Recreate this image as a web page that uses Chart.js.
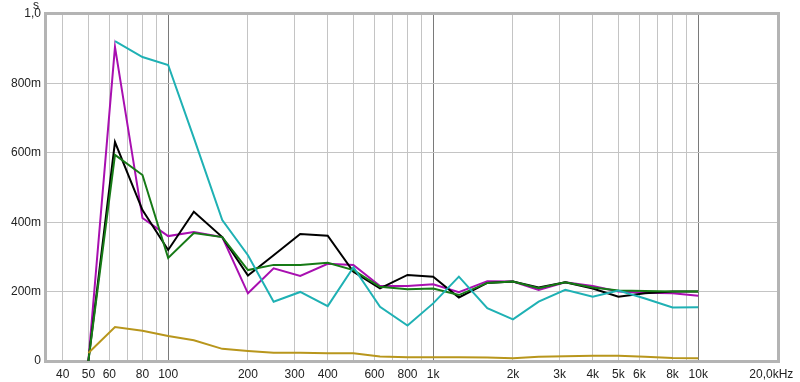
<!DOCTYPE html>
<html>
<head>
<meta charset="utf-8">
<script src="https://cdn.jsdelivr.net/npm/chart.js@4/dist/chart.umd.min.js"></script>
<style>
  html, body { margin: 0; padding: 0; background: #ffffff; }
  #wrap { width: 800px; height: 382px; }
</style>
</head>
<body>
<div id="wrap"><canvas id="c" width="800" height="382"></canvas></div>
<script>
// Frequencies (Hz), 1/3-octave bands
const freqs = [50, 63, 80, 100, 125, 160, 200, 250, 315, 400, 500, 630, 800, 1000, 1250, 1600, 2000, 2500, 3150, 4000, 5000, 6300, 8000, 10000];

// Series values (seconds); null = no value in that band
const tealVals   = [null, 0.922, 0.876, 0.853, 0.643, 0.406, 0.305, 0.171, 0.199, 0.158, 0.270, 0.156, 0.102, 0.166, 0.243, 0.152, 0.120, 0.171, 0.205, 0.185, 0.203, 0.180, 0.154, 0.155];
const purpleVals = [0.0, 0.905, 0.412, 0.360, 0.372, 0.357, 0.195, 0.267, 0.245, 0.280, 0.277, 0.216, 0.216, 0.221, 0.198, 0.230, 0.229, 0.205, 0.227, 0.216, 0.200, 0.197, 0.195, 0.188];
const blackVals  = [0.0, 0.631, 0.435, 0.320, 0.430, 0.357, 0.246, 0.305, 0.366, 0.361, 0.257, 0.209, 0.248, 0.243, 0.183, 0.225, 0.229, 0.212, 0.227, 0.209, 0.185, 0.195, 0.200, 0.200];
const greenVals  = [0.0, 0.594, 0.536, 0.297, 0.369, 0.357, 0.262, 0.277, 0.277, 0.283, 0.262, 0.214, 0.207, 0.209, 0.190, 0.225, 0.229, 0.210, 0.227, 0.212, 0.203, 0.202, 0.200, 0.200];
const goldVals   = [0.023, 0.098, 0.087, 0.072, 0.060, 0.035, 0.029, 0.024, 0.024, 0.022, 0.022, 0.013, 0.011, 0.011, 0.011, 0.010, 0.008, 0.012, 0.014, 0.015, 0.015, 0.012, 0.009, 0.008];

// Tick values / labels
const xGridValues = [40, 50, 60, 70, 80, 90, 100, 200, 300, 400, 500, 600, 700, 800, 900, 1000, 2000, 3000, 4000, 5000, 6000, 7000, 8000, 9000, 10000, 20000];
const xLabelValues = [40, 50, 60, 80, 100, 200, 300, 400, 600, 800, 1000, 2000, 3000, 4000, 5000, 6000, 8000, 10000, 20000];
const xLabelTexts  = ['40', '50', '60', '80', '100', '200', '300', '400', '600', '800', '1k', '2k', '3k', '4k', '5k', '6k', '8k', '10k', '20,0kHz    '];
const yTickValues = [0, 0.2, 0.4, 0.6, 0.8, 1.0];
const yTickTexts  = ['0', '200m', '400m', '600m', '800m', '1,0'];
const yUnit = 's';

const series = [
  { name: 'teal',   vals: tealVals,   color: '#1fb1b4' },
  { name: 'gold',   vals: goldVals,   color: '#b8961c' },
  { name: 'green',  vals: greenVals,  color: '#167a16' },
  { name: 'black',  vals: blackVals,  color: '#000000' },
  { name: 'purple', vals: purpleVals, color: '#a80fb0' }
];

const FONT = { family: '"Liberation Sans", Arial, sans-serif', size: 12 };

const framePlugin = {
  id: 'frame',
  beforeDatasetsDraw(chart) {
    const a = chart.chartArea, ctx = chart.ctx;
    ctx.save();
    ctx.strokeStyle = '#b4b4b4';
    ctx.lineWidth = 3;
    ctx.strokeRect(a.left - 0.5, a.top - 0.5, a.right - a.left + 1, a.bottom - a.top + 1);
    ctx.restore();
  },
  afterDraw(chart) {
    const ctx = chart.ctx;
    ctx.save();
    ctx.fillStyle = '#222';
    ctx.font = '12px "Liberation Sans", Arial, sans-serif';
    ctx.textAlign = 'center';
    ctx.textBaseline = 'alphabetic';
    ctx.fillText(yUnit, 36, 9);
    ctx.restore();
  }
};

new Chart(document.getElementById('c'), {
  type: 'line',
  data: {
    datasets: series.map(s => ({
      label: s.name,
      data: freqs.map((f, i) => ({ x: f, y: s.vals[i] })),
      borderColor: s.color,
      backgroundColor: s.color,
      borderWidth: 2,
      pointRadius: 0,
      tension: 0,
      spanGaps: false,
      fill: false
    }))
  },
  options: {
    responsive: false,
    animation: false,
    devicePixelRatio: 1,
    layout: { padding: { top: 14, right: 22, left: 0, bottom: 0 } },
    plugins: { legend: { display: false }, tooltip: { enabled: false } },
    scales: {
      x: {
        type: 'logarithmic',
        min: 34.6,
        max: 20000,
        afterBuildTicks(scale) { scale.ticks = xGridValues.map(v => ({ value: v })); },
        afterFit(scale) { scale.height = 21; scale.paddingLeft = 0; scale.paddingRight = 0; },
        ticks: {
          autoSkip: false,
          maxRotation: 0,
          minRotation: 0,
          padding: 6,
          color: '#222',
          font: FONT,
          callback(v) { const i = xLabelValues.indexOf(v); return i >= 0 ? xLabelTexts[i] : ''; }
        },
        grid: {
          drawTicks: false,
          lineWidth: 1,
          color(ctx) {
            const v = ctx.tick && ctx.tick.value;
            if (v === 100 || v === 1000 || v === 10000) return '#7a7a7a';
            if (v === 20000) return 'rgba(0,0,0,0)';
            return '#c4c4c4';
          }
        },
        border: { display: false }
      },
      y: {
        type: 'linear',
        min: 0,
        max: 1,
        afterBuildTicks(scale) { scale.ticks = yTickValues.map(v => ({ value: v })); },
        afterFit(scale) { scale.width = 46; },
        ticks: {
          padding: 5,
          color: '#222',
          font: FONT,
          callback(v) { const i = yTickValues.findIndex(t => Math.abs(t - v) < 1e-9); return i >= 0 ? yTickTexts[i] : ''; }
        },
        grid: { drawTicks: false, color: '#c4c4c4', lineWidth: 1 },
        border: { display: false }
      }
    }
  },
  plugins: [framePlugin]
});
</script>
</body>
</html>
